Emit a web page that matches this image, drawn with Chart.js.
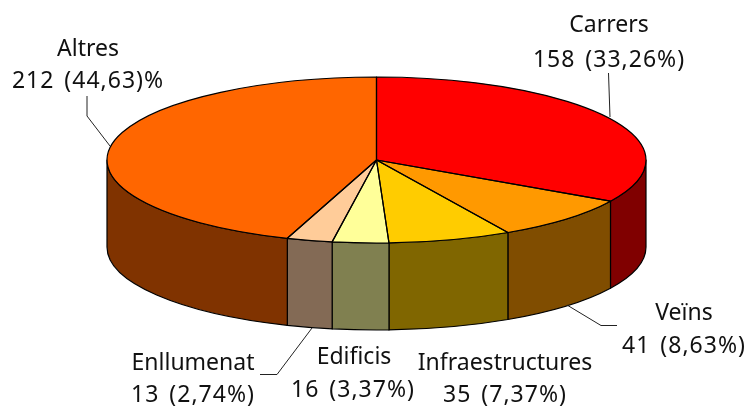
<!DOCTYPE html>
<html><head><meta charset="utf-8">
<style>html,body{margin:0;padding:0;background:#fff;overflow:hidden}canvas{display:block}</style>
<script src="https://cdn.jsdelivr.net/npm/chart.js@4"></script>
</head><body><canvas id="c" width="750" height="407"></canvas>
<script>
const categories = ["Carrers","Veïns","Infraestructures","Edificis","Enllumenat","Altres"];
const values = [158,41,35,16,13,212];
const percentLabels = ["158 (33,26%)","41 (8,63%)","35 (7,37%)","16 (3,37%)","13 (2,74%)","212 (44,63)%"];
const topColors = ["#FF0000","#FF9900","#FFCC00","#FFFF99","#FFCC99","#FF6600"];
const sideColors = ["#800000","#804D00","#806600","#808050","#836A55","#803300"];
// label layout: centre x of line 1, first baseline, centre x of line 2, second baseline
const labelPos = [[609,32,609,67],[684,320,684,353],[505,370,505,402],[354,364,353,397],[193,370,193,402],[88,56,88,88]];
const leaders = [
  [[608.5,73],[610,117]],
  [[617,325.5],[601,325.5],[567,305]],
  [],[],
  [[260,374.5],[277,374.5],[312,328]],
  [[87,96],[87,116],[110,146]]
];
const RX = 269.5, DEPTH = 87, FONT = '23px "Noto Sans"';

const pie3d = {
  id:'pie3d',
  beforeDatasetsDraw(chart){
    const ctx = chart.ctx, arcs = chart.getDatasetMeta(0).data;
    const {x:cx,y:cy,outerRadius:ry} = arcs[0];
    ctx.save();
    ctx.strokeStyle='#000'; ctx.lineWidth=1.2; ctx.lineJoin='round';
    arcs.forEach((a,i)=>{
      const s=Math.max(a.startAngle,0), e=Math.min(a.endAngle,Math.PI);
      if(e<=s) return;
      ctx.beginPath();
      ctx.ellipse(cx,cy,RX,ry,0,s,e);
      ctx.ellipse(cx,cy+DEPTH,RX,ry,0,e,s,true);
      ctx.closePath();
      ctx.fillStyle=sideColors[i]; ctx.fill(); ctx.stroke();
    });
    ctx.restore();
    ctx.save();
    ctx.translate(cx,cy); ctx.scale(RX/ry,1); ctx.translate(-cx,-cy);
  },
  afterDatasetsDraw(chart){
    const ctx = chart.ctx, arcs = chart.getDatasetMeta(0).data;
    ctx.restore();
    const {x:cx,y:cy,outerRadius:ry} = arcs[0];
    ctx.save();
    ctx.strokeStyle='#000'; ctx.lineWidth=1.2; ctx.lineJoin='round';
    arcs.forEach(a=>{
      ctx.beginPath();
      ctx.moveTo(cx,cy);
      ctx.ellipse(cx,cy,RX,ry,0,a.startAngle,a.endAngle);
      ctx.closePath();
      ctx.stroke();
    });
    ctx.lineWidth=1; ctx.strokeStyle='#222';
    leaders.forEach(l=>{
      if(!l.length) return;
      ctx.beginPath();
      l.forEach((p,i)=> i?ctx.lineTo(p[0],p[1]):ctx.moveTo(p[0],p[1]));
      ctx.stroke();
    });
    ctx.fillStyle='#111'; ctx.font=FONT; ctx.textAlign='center'; ctx.textBaseline='alphabetic';
    categories.forEach((t,i)=>{
      const [x1,y1,x2,y2]=labelPos[i];
      ctx.letterSpacing='0px'; ctx.wordSpacing='0px';
      ctx.fillText(t,x1,y1);
      ctx.letterSpacing='1px'; ctx.wordSpacing='3px';
      ctx.fillText(percentLabels[i],x2,y2);
    });
    ctx.restore();
  }
};

new Chart(document.getElementById('c'),{
  type:'pie',
  data:{labels:categories,datasets:[{data:values,backgroundColor:topColors,borderWidth:0}]},
  options:{
    responsive:false,animation:false,
    layout:{padding:{top:77,bottom:164,left:3,right:0}},
    plugins:{legend:{display:false},tooltip:{enabled:false}}
  },
  plugins:[pie3d]
});
</script></body></html>
